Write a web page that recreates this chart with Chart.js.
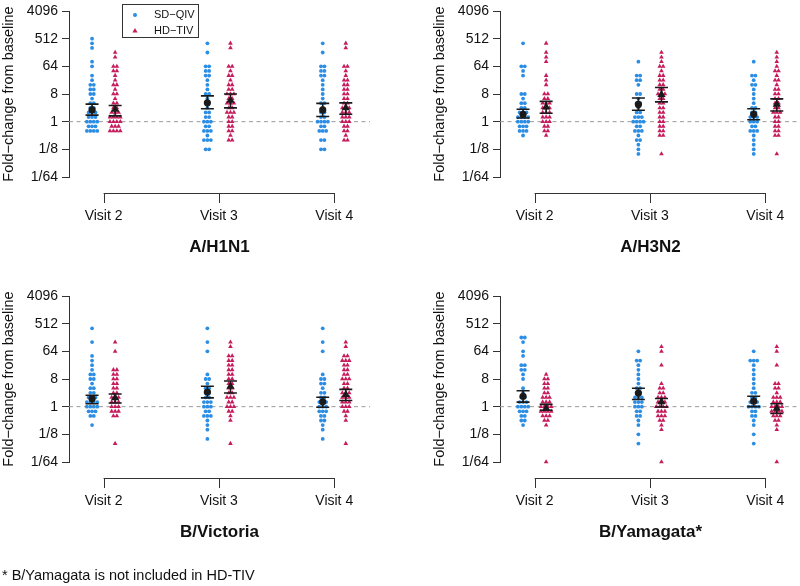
<!DOCTYPE html>
<html lang="en">
<head>
<meta charset="UTF-8">
<title>Fold-change from baseline</title>
<script src="https://cdn.jsdelivr.net/npm/chart.js@4.4.1/dist/chart.umd.min.js"></script>
<style>
  body { margin: 0; width: 800px; height: 586px; overflow: hidden; background: #fff; position: relative;
         font-family: 'Liberation Sans', Arial, sans-serif; }
  .panel { position: absolute; width: 400px; height: 290px; }
  #note { position: absolute; left: 2px; top: 567px; font-size: 14.5px; line-height: 16px; color: #111; white-space: nowrap; }
</style>
</head>
<body>
<div class="panel" style="left:0;top:0"><canvas id="c0" width="400" height="290"></canvas></div>
<div class="panel" style="left:431px;top:0"><canvas id="c1" width="400" height="290"></canvas></div>
<div class="panel" style="left:0;top:285px"><canvas id="c2" width="400" height="290"></canvas></div>
<div class="panel" style="left:431px;top:285px"><canvas id="c3" width="400" height="290"></canvas></div>
<div id="note">* B/Yamagata is not included in HD-TIV</div>
<script>
// all values are log2(fold-change from baseline)
const visits = [2, 3, 4];
const visitLabels = ['Visit 2', 'Visit 3', 'Visit 4'];
const yTicks = [12, 9, 6, 3, 0, -3, -6];
const yTickLabels = ['4096', '512', '64', '8', '1', '1/8', '1/64'];
const strains = ['A/H1N1', 'A/H3N2', 'B/Victoria', 'B/Yamagata*'];

// A/H1N1
const h1n1SdV2 = [9, 8.5, 8, 6.5, 6, 5, 4.5, 4, 4, 3.5, 3.5, 3, 3, 2.5, 2, 2, 1.5, 1.5, 1, 1, 1, 0.5, 0.5, 0.5, 0, 0, 0, 0, -0.5, -0.5, -0.5, -1, -1, -1, -1];
const h1n1HdV2 = [7.5, 7, 6, 6, 5.5, 5.5, 5, 4.5, 4, 4, 3.5, 3, 3, 2.5, 2, 2, 1.5, 1.5, 1, 1, 1, 0.5, 0.5, 0.5, 0.5, 0, 0, 0, 0, -0.5, -0.5, -0.5, -1, -1, -1, -1];
const h1n1SdV3 = [8.5, 7.5, 6, 6, 5.5, 5.5, 5, 5, 4.5, 4, 3.5, 3, 3, 2.5, 2, 1.5, 1, 1, 0.5, 0.5, 0, 0, 0, -0.5, -0.5, -1, -1, -1, -1.5, -2, -2, -2, -3, -3];
const h1n1HdV3 = [8.5, 8, 6, 6, 5.5, 5, 5, 4.5, 4, 4, 3.5, 3.5, 3, 3, 3, 2.5, 2.5, 2, 2, 2, 1.5, 1.5, 1, 1, 1, 0.5, 0.5, 0, 0, -0.5, -0.5, -1, -1, -1.5, -2, -2];
const h1n1SdV4 = [8.5, 7.5, 6, 6, 5.5, 5.5, 5, 5, 4.5, 4, 3.5, 3, 2.5, 2, 2, 1.5, 1, 1, 0.5, 0.5, 0, 0, 0, 0, -0.5, -0.5, -1, -1, -1, -2, -2, -3, -3];
const h1n1HdV4 = [8.5, 8, 6, 6, 5.5, 5, 4.5, 4.5, 4, 4, 3.5, 3.5, 3, 3, 2.5, 2.5, 2, 2, 1.5, 1.5, 1.5, 1, 1, 1, 0.5, 0.5, 0.5, 0, 0, 0, -0.5, -0.5, -1, -1, -1.5, -2, -2];
const h1n1SdMean = [1.27, 2.04, 1.27], h1n1SdLo = [0.71, 1.4, 0.56], h1n1SdHi = [1.9, 2.8, 1.98];
const h1n1HdMean = [1.34, 2.3, 1.5], h1n1HdLo = [0.63, 1.5, 0.8], h1n1HdHi = [1.76, 3.0, 2.04];

// A/H3N2
const h3n2SdV2 = [8.5, 6, 6, 5.5, 5, 3, 3, 2.5, 2, 2, 1.5, 1.5, 1, 1, 1, 0.5, 0.5, 0.5, 0.5, 0, 0, 0, 0, -0.5, -0.5, -0.5, -1, -1, -1, -1.5];
const h3n2HdV2 = [8.5, 7.5, 7, 6.5, 5, 4.5, 4, 3, 3, 2.5, 2.5, 2, 2, 2, 1.5, 1.5, 1.5, 1, 1, 1, 0.5, 0.5, 0.5, 0, 0, 0, -0.5, -0.5, -1, -1, -1.5];
const h3n2SdV3 = [6.5, 5, 5, 4.5, 4.5, 4, 3, 3, 2.5, 2, 2, 1.5, 1, 1, 0.5, 0.5, 0.5, 0, 0, 0, 0, -0.5, -0.5, -1, -1, -1, -1.5, -2, -2, -2.5, -3, -3.5];
const h3n2HdV3 = [7.5, 7, 6.5, 6, 6, 5.5, 5, 5, 4.5, 4.5, 4, 4, 3.5, 3.5, 3, 3, 3, 2.5, 2.5, 2, 2, 1.5, 1.5, 1, 1, 0.5, 0.5, 0, 0, -0.5, -0.5, -1, -1, -1.5, -1.5, -3.5];
const h3n2SdV4 = [6.5, 5, 5, 4.5, 4, 4, 3.5, 3, 2.5, 2, 1.5, 1.5, 1, 1, 0.5, 0.5, 0.5, 0, 0, 0, -0.5, -0.5, -1, -1, -1, -1.5, -2, -2.5, -3, -3.5];
const h3n2HdV4 = [7.5, 7, 6.5, 6, 5.5, 5.5, 5, 4.5, 4.5, 4, 3.5, 3.5, 3, 3, 2.5, 2.5, 2, 2, 1.5, 1.5, 1, 1, 1, 0.5, 0.5, 0, 0, -0.5, -0.5, -1, -1, -1.5, -1.5, -3.5];
const h3n2SdMean = [0.8, 1.87, 0.8], h3n2SdLo = [0.39, 1.24, 0.2], h3n2SdHi = [1.34, 2.57, 1.4];
const h3n2HdMean = [1.59, 2.93, 1.87], h3n2HdLo = [0.92, 2.15, 1.16], h3n2HdHi = [2.2, 3.7, 2.47];

// B/Victoria
const vicSdV2 = [8.5, 7, 5.5, 5, 4.5, 4, 3.5, 3.5, 3, 3, 2.5, 2, 2, 1.5, 1.5, 1, 1, 1, 0.5, 0.5, 0.5, 0.5, 0, 0, 0, 0, -0.5, -0.5, -0.5, -1, -1, -2];
const vicHdV2 = [7, 6, 4, 4, 3.5, 3.5, 3, 3, 2.5, 2.5, 2, 2, 1.5, 1.5, 1, 1, 1, 0.5, 0.5, 0.5, 0, 0, 0, -0.5, -0.5, -0.5, -1, -1, -4];
const vicSdV3 = [8.5, 7, 6, 3.5, 3, 3, 2.5, 2, 2, 1.5, 1.5, 1, 1, 0.5, 0.5, 0.5, 0, 0, 0, -0.5, -0.5, -1, -1, -1, -1.5, -2, -2.5, -3.5];
const vicHdV3 = [7, 6.5, 5.5, 5.5, 5, 5, 4.5, 4.5, 4, 4, 3.5, 3.5, 3, 3, 2.5, 2.5, 2, 2, 1.5, 1.5, 1, 1, 1, 0.5, 0.5, 0, 0, 0, -0.5, -0.5, -1, -1.5, -4];
const vicSdV4 = [8.5, 7, 6, 3.5, 3, 3, 2.5, 2.5, 2, 1.5, 1.5, 1, 1, 0.5, 0.5, 0.5, 0, 0, 0, -0.5, -0.5, -0.5, -1, -1, -1.5, -1.5, -2, -2.5, -3.5];
const vicHdV4 = [7, 6.5, 5.5, 5.5, 5, 5, 5, 4.5, 4.5, 4, 4, 3.5, 3.5, 3, 3, 3, 2.5, 2.5, 2, 2, 1.5, 1.5, 1.5, 1, 1, 1, 0.5, 0.5, 0.5, 0, 0, 0, -0.5, -0.5, -1, -1.5, -4];
const vicSdMean = [0.85, 1.59, 0.53], vicSdLo = [0.32, 0.95, -0.07], vicSdHi = [1.23, 2.22, 1.02];
const vicHdMean = [0.95, 2.19, 1.3], vicHdLo = [0.39, 1.48, 0.67], vicHdHi = [1.38, 2.79, 1.87];

// B/Yamagata
const yamSdV2 = [7.5, 7.5, 7, 6, 5.5, 4.5, 4.5, 4, 4, 3.5, 3, 2, 1.5, 1, 1, 0.5, 0.5, 0.5, 0, 0, 0, 0, -0.5, -0.5, -0.5, -1, -1, -1.5, -1.5, -2];
const yamHdV2 = [3.5, 3, 3, 2.5, 2.5, 2, 2, 1.5, 1.5, 1, 1, 1, 0.5, 0.5, 0.5, 0, 0, 0, 0, -0.5, -0.5, -0.5, -0.5, -1, -1, -1, -1.5, -1.5, -2, -6];
const yamSdV3 = [6, 5, 5, 4.5, 4, 3.5, 3, 2.5, 2, 2, 1.5, 1.5, 1, 1, 1, 0.5, 0.5, 0.5, 0, 0, 0, -0.5, -0.5, -1, -1, -1.5, -2, -3, -4];
const yamHdV3 = [6.5, 6, 4.5, 2.5, 2, 2, 1.5, 1.5, 1, 1, 1, 0.5, 0.5, 0.5, 0, 0, 0, 0, -0.5, -0.5, -0.5, -1, -1, -1, -1.5, -1.5, -2, -2.5, -6];
const yamSdV4 = [6, 5, 5, 5, 4.5, 4, 3.5, 3, 2.5, 2, 1.5, 1.5, 1, 1, 0.5, 0.5, 0.5, 0, 0, 0, 0, -0.5, -0.5, -1, -1, -1.5, -2, -3, -4];
const yamHdV4 = [6.5, 6, 4.5, 2.5, 2.5, 2, 2, 1.5, 1, 1, 1, 0.5, 0.5, 0.5, 0, 0, 0, 0, -0.5, -0.5, -0.5, -0.5, -1, -1, -1, -1.5, -1.5, -2, -2.5, -6];
const yamSdMean = [1.13, 1.48, 0.6], yamSdLo = [0.49, 0.78, 0.0], yamSdHi = [1.73, 2.0, 1.13];
const yamHdMean = [-0.18, 0.53, -0.18], yamHdLo = [-0.39, -0.04, -0.74], yamHdHi = [0.25, 0.88, 0.32];

const SD_COLOR = '#2b8de4';
const HD_COLOR = '#c71c5c';
const INK = '#1a1a1a';
const X_MIN = 1.7, X_MAX = 4.31;
const GROUP_OFF = 0.1;   // SD left of visit, HD right
const DX = 0.03;         // spacing between tied points

Chart.defaults.font.family = "'Liberation Sans', Arial, sans-serif";
Chart.defaults.color = '#111';

// place tied values side by side, centred on the group position
function swarm(values, center) {
  const n = {}, k = {};
  values.forEach(v => { n[v] = (n[v] || 0) + 1; });
  return values.map(v => {
    k[v] = k[v] || 0;
    const x = center + (k[v] - (n[v] - 1) / 2) * DX;
    k[v]++;
    return { x: x, y: v };
  });
}

const errorBars = {
  id: 'errorBars',
  beforeDatasetDraw(chart, args) {
    if (chart.data.datasets[args.index].role !== 'sdMean') return;
    const { ctx, scales: { x, y } } = chart;
    const st = chart.options.plugins.errorBars;
    ctx.save();
    ctx.strokeStyle = INK;
    ctx.lineWidth = 1.6;
    [[st.sdLo, st.sdHi, -GROUP_OFF], [st.hdLo, st.hdHi, GROUP_OFF]].forEach(([lo, hi, off]) => {
      visits.forEach((v, i) => {
        const px = x.getPixelForValue(v + off);
        const p1 = y.getPixelForValue(lo[i]), p2 = y.getPixelForValue(hi[i]);
        ctx.beginPath();
        ctx.moveTo(px, p1); ctx.lineTo(px, p2);
        ctx.moveTo(px - 6.5, p1); ctx.lineTo(px + 6.5, p1);
        ctx.moveTo(px - 6.5, p2); ctx.lineTo(px + 6.5, p2);
        ctx.stroke();
      });
    });
    ctx.restore();
  }
};

// R style bracket under the plot
const bracket = {
  id: 'bracket',
  afterDraw(chart) {
    const { ctx, chartArea, scales: { x } } = chart;
    const yb = chartArea.bottom + 16;
    ctx.save();
    ctx.strokeStyle = '#333';
    ctx.lineWidth = 1;
    ctx.beginPath();
    ctx.moveTo(x.getPixelForValue(visits[0]), yb + 0.5);
    ctx.lineTo(x.getPixelForValue(visits[visits.length - 1]), yb + 0.5);
    visits.forEach(v => {
      const px = Math.round(x.getPixelForValue(v)) + 0.5;
      ctx.moveTo(px, yb);
      ctx.lineTo(px, yb + 10);
    });
    ctx.stroke();
    ctx.restore();
  }
};

const boxLegend = {
  id: 'boxLegend',
  afterDraw(chart) {
    if (!chart.options.plugins.boxLegend.show) return;
    const ctx = chart.ctx;
    ctx.save();
    ctx.strokeStyle = '#333';
    ctx.lineWidth = 1;
    ctx.strokeRect(122.5, 4.5, 76, 33);
    const items = [
      { text: 'SD\u2212QIV', style: 'circle', r: 2, color: SD_COLOR, y: 15 },
      { text: 'HD\u2212TIV', style: 'triangle', r: 3, color: HD_COLOR, y: 31 }
    ];
    ctx.font = "11px 'Liberation Sans', Arial, sans-serif";
    ctx.textBaseline = 'middle';
    items.forEach(it => {
      ctx.fillStyle = it.color;
      Chart.helpers.drawPoint(ctx, { pointStyle: it.style, radius: it.r, borderWidth: 0, rotation: 0 }, 135, it.y);
      ctx.fillStyle = '#111';
      ctx.fillText(it.text, 154, it.y);
    });
    ctx.restore();
  }
};

function makePanel(id, title, sdRuns, hdRuns, sdMean, sdLo, sdHi, hdMean, hdLo, hdHi, showLegend) {
  const sdPts = [].concat(...sdRuns.map((r, i) => swarm(r, visits[i] - GROUP_OFF)));
  const hdPts = [].concat(...hdRuns.map((r, i) => swarm(r, visits[i] + GROUP_OFF)));
  new Chart(document.getElementById(id), {
    type: 'scatter',
    data: {
      datasets: [
        { role: 'hdMean', data: visits.map((v, i) => ({ x: v + GROUP_OFF, y: hdMean[i] })), order: 0,
          pointStyle: 'triangle', pointRadius: 4.8, backgroundColor: INK, borderWidth: 0 },
        { role: 'sdMean', data: visits.map((v, i) => ({ x: v - GROUP_OFF, y: sdMean[i] })), order: 1,
          pointStyle: 'circle', pointRadius: 3.6, backgroundColor: INK, borderWidth: 0 },
        { label: 'HD\u2212TIV', data: hdPts, order: 3,
          pointStyle: 'triangle', pointRadius: 2.7, backgroundColor: HD_COLOR, borderWidth: 0 },
        { label: 'SD\u2212QIV', data: sdPts, order: 4,
          pointStyle: 'circle', pointRadius: 1.9, backgroundColor: SD_COLOR, borderWidth: 0 },
        { type: 'line', data: [{ x: X_MIN, y: 0 }, { x: X_MAX, y: 0 }], order: 5,
          borderColor: '#9a9a9a', borderWidth: 1, borderDash: [4, 3.5], pointRadius: 0 }
      ]
    },
    options: {
      responsive: false,
      animation: false,
      clip: false,
      events: [],
      layout: { padding: { top: 7, right: 30, bottom: 0, left: 0 } },
      plugins: {
        legend: { display: false },
        tooltip: { enabled: false },
        errorBars: { sdLo, sdHi, hdLo, hdHi },
        boxLegend: { show: showLegend }
      },
      scales: {
        x: {
          type: 'linear', min: X_MIN, max: X_MAX,
          afterFit: s => { s.height = 113; },
          afterBuildTicks: s => { s.ticks = visits.map(v => ({ value: v })); },
          ticks: { callback: v => visitLabels[visits.indexOf(v)], padding: 32,
                   font: { size: 14, lineHeight: 1 }, color: '#111', maxRotation: 0 },
          grid: { display: false, drawTicks: false },
          border: { display: false },
          title: { display: true, text: title, color: '#111',
                   font: { size: 17, weight: 'bold' }, padding: { top: 0, bottom: 32 } }
        },
        y: {
          type: 'linear', min: -6, max: 12,
          afterFit: s => { s.width = 69; },
          afterBuildTicks: s => { s.ticks = yTicks.map(v => ({ value: v })); },
          ticks: { callback: v => yTickLabels[yTicks.indexOf(v)], padding: 4,
                   font: { size: 14, lineHeight: 1 }, color: '#111' },
          grid: { drawOnChartArea: false, drawTicks: true, tickLength: 7, color: '#333' },
          border: { display: true, color: '#333', width: 1 },
          title: { display: true, text: 'Fold\u2212change from baseline', color: '#111',
                   font: { size: 14.5 }, padding: { top: 0, bottom: 0 } }
        }
      }
    },
    plugins: [errorBars, bracket, boxLegend]
  });
}

makePanel('c0', strains[0], [h1n1SdV2, h1n1SdV3, h1n1SdV4], [h1n1HdV2, h1n1HdV3, h1n1HdV4],
  h1n1SdMean, h1n1SdLo, h1n1SdHi, h1n1HdMean, h1n1HdLo, h1n1HdHi, true);
makePanel('c1', strains[1], [h3n2SdV2, h3n2SdV3, h3n2SdV4], [h3n2HdV2, h3n2HdV3, h3n2HdV4],
  h3n2SdMean, h3n2SdLo, h3n2SdHi, h3n2HdMean, h3n2HdLo, h3n2HdHi, false);
makePanel('c2', strains[2], [vicSdV2, vicSdV3, vicSdV4], [vicHdV2, vicHdV3, vicHdV4],
  vicSdMean, vicSdLo, vicSdHi, vicHdMean, vicHdLo, vicHdHi, false);
makePanel('c3', strains[3], [yamSdV2, yamSdV3, yamSdV4], [yamHdV2, yamHdV3, yamHdV4],
  yamSdMean, yamSdLo, yamSdHi, yamHdMean, yamHdLo, yamHdHi, false);
</script>
</body>
</html>
